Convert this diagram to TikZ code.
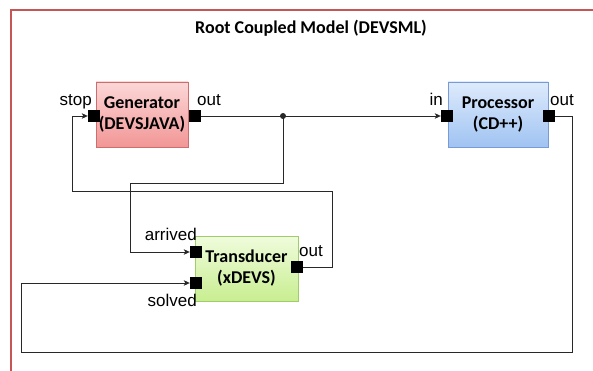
\documentclass[tikz,border=0pt]{standalone}
\usepackage{fontspec}
\setmainfont{Liberation Sans}
\newfontfamily\boxfont{Carlito}
\usetikzlibrary{arrows.meta}

\definecolor{framered}{RGB}{200,85,85}
\definecolor{genTop}{RGB}{252,215,215}
\definecolor{genBot}{RGB}{242,150,150}
\definecolor{genLine}{RGB}{205,110,110}
\definecolor{procTop}{RGB}{222,235,252}
\definecolor{procBot}{RGB}{160,195,242}
\definecolor{procLine}{RGB}{120,155,215}
\definecolor{trTop}{RGB}{240,252,220}
\definecolor{trBot}{RGB}{200,238,145}
\definecolor{trLine}{RGB}{160,205,105}
\definecolor{wire}{RGB}{40,40,40}

\tikzset{
  model/.style={draw, line width=0.8pt, minimum height=65pt, inner sep=0pt,
    align=center, font=\boxfont\bfseries\fontsize{18}{21}\selectfont},
  port/.style={fill=black, minimum size=12pt, inner sep=0pt},
  plabel/.style={inner sep=0pt, font=\fontsize{17}{19}\selectfont},
  conn/.style={draw=wire, line width=0.9pt},
  tip/.style={-{Stealth[length=6pt,width=5.5pt,inset=1.5pt]}}
}

\begin{document}
\begin{tikzpicture}[x=1pt,y=-1pt]
\useasboundingbox (0,0) rectangle (593,371);

% outer coupled model frame
\draw[framered, line width=2.2pt] (11,371) -- (11,10) -- (593,10);
\node[inner sep=0pt, anchor=base, font=\boxfont\bfseries\fontsize{18}{21}\selectfont]
  (title) at (311,34) {Root Coupled Model (DEVSML)};

% atomic models
\node[model, minimum width=92pt, draw=genLine, top color=genTop, bottom color=genBot]
  (gen) at (142,114.5) {Generator\\(DEVSJAVA)};
\node[model, minimum width=100pt, draw=procLine, top color=procTop, bottom color=procBot]
  (proc) at (498,114.5) {Processor\\(CD++)};
\node[model, minimum width=103pt, draw=trLine, top color=trTop, bottom color=trBot]
  (trans) at (246.5,268.5) {Transducer\\(xDEVS)};

% ports
\node[port] (gstop) at (94,116) {};
\node[port] (gout)  at (195,116) {};
\node[port] (pin)   at (447,116) {};
\node[port] (pout)  at (549,116) {};
\node[port] (tarr)  at (196,252) {};
\node[port] (tsol)  at (196,283) {};
\node[port] (tout)  at (297,267) {};

% port labels
\node[plabel, anchor=base east] (lstop) at (92,106) {stop};
\node[plabel, anchor=base west] (lgout) at (197,106) {out};
\node[plabel, anchor=base east] (lpin)  at (443,106) {in};
\node[plabel, anchor=base west] (lpout) at (550,106) {out};
\node[plabel, anchor=base east] (larr)  at (197,240) {arrived};
\node[plabel, anchor=base west] (ltout) at (299,256) {out};
\node[plabel, anchor=base east] (lsol)  at (197,306) {solved};

% routing points
\coordinate (j)  at (283,116);
\coordinate (a1) at (130,183);
\coordinate (b1) at (332,191);
\coordinate (b2) at (72,191);
\coordinate (c1) at (572,352);
\coordinate (c2) at (21,352);

% couplings
\draw[conn, tip] (gout.east) -- (pin.west);
\fill[wire] (j) circle (3pt);
\draw[conn, tip] (j) |- (a1) |- (tarr.west);
\draw[conn, tip] (tout.east) -| (b1) -- (b2) |- (gstop.west);
\draw[conn, tip] (pout.east) -| (c1) -- (c2) |- (tsol.west);
\end{tikzpicture}
\end{document}
